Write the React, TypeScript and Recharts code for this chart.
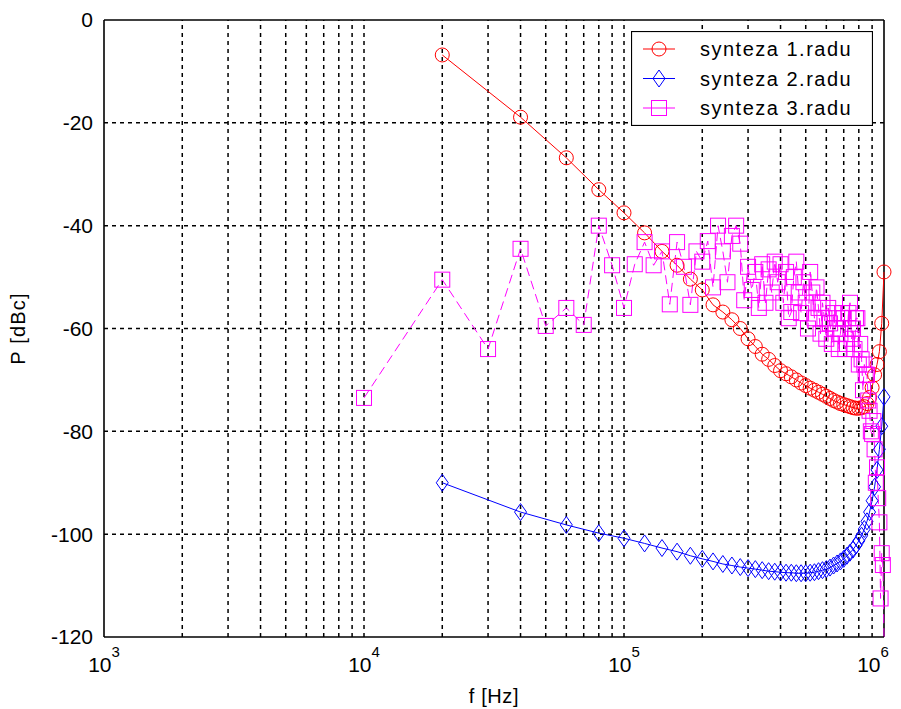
import React from "react"
import {
  LineChart,
  Line,
  XAxis,
  YAxis,
  ReferenceLine,
  Legend,
} from "recharts"

// frequencies in kHz
const harmonicsKHz = [
  20, 40, 60, 80, 100, 120, 140, 160, 180, 200,
  220, 240, 260, 280, 300, 320, 340, 360, 380, 400,
  420, 440, 460, 480, 500, 520, 540, 560, 580, 600,
  620, 640, 660, 680, 700, 720, 740, 760, 780, 800,
  820, 840, 860, 880, 900, 920, 940, 960, 980, 1000,
]

const thirdOrderKHz = [
  10, 20, 30, 40, 50, 60, 70, 80, 90, 100,
  110, 120, 130, 140, 150, 160, 170, 180, 190, 200,
  210, 220, 230, 240, 250, 260, 270, 280, 290, 300,
  310, 320, 330, 340, 350, 360, 370, 380, 390, 400,
  410, 420, 430, 440, 450, 460, 470, 480, 490, 500,
  510, 520, 530, 540, 550, 560, 570, 580, 590, 600,
  610, 620, 630, 640, 650, 660, 670, 680, 690, 700,
  710, 720, 730, 740, 750, 760, 770, 780, 790, 800,
  810, 820, 830, 840, 850, 860, 870, 880, 890, 900,
  910, 920, 930, 940, 950, 960, 970, 980, 990, 1000,
]

// P [dBc]
const synteza1 = [
  -6.8, -18.9, -26.8, -33, -37.5, -41.4, -45, -47.7, -50.4, -52.5,
  -55.4, -56.8, -58.3, -60, -62, -63.5, -65, -66, -67.2, -68.2,
  -68.8, -69.4, -70, -70.6, -71.1, -71.6, -72, -72.4, -72.8, -73.2,
  -73.6, -74, -74.3, -74.6, -74.8, -75, -75.2, -75.4, -75.5, -75.5,
  -75.4, -75.2, -74.6, -73.4, -71.5, -69, -67, -64.5, -59, -49,
]

const synteza2 = [
  -90, -95.7, -98.2, -99.8, -100.8, -101.8, -102.7, -103.4, -104.2, -104.8,
  -105.3, -105.8, -106.1, -106.4, -106.6, -106.8, -107, -107.2, -107.3, -107.4,
  -107.5, -107.5, -107.6, -107.6, -107.6, -107.5, -107.4, -107.2, -107, -106.8,
  -106.5, -106.1, -105.7, -105.3, -104.8, -104.2, -103.6, -103, -102.2, -101.3,
  -100.3, -99, -97.5, -95.7, -93.5, -90.8, -87.5, -83.5, -79, -73.3,
]

// last point sits at the bottom of the axes (off scale)
const synteza3 = [
  -73.5, -50.5, -64, -44.5, -59.5, -56, -59.3, -40, -47.7, -56,
  -47.5, -43.2, -47.7, -45, -55.3, -43.2, -48, -55.4, -45, -47,
  -43, -52, -40, -45, -51, -42, -40, -43.5, -54.5, -48,
  -52.5, -49, -56, -47.5, -55, -48.5, -53, -47, -51, -47.5,
  -55, -49, -58, -56.8, -50, -47, -53, -57, -51, -55,
  -60, -49, -53, -58, -52, -56, -61, -55, -58, -62,
  -56, -59, -63, -57, -60, -58, -64, -61, -57, -58,
  -64, -63, -57, -55, -62, -60, -64, -58, -58, -67,
  -63, -66, -72, -67, -69, -69, -74, -76, -80, -80.5,
  -78, -83.5, -90, -87, -93, -97.7, -112.5, -103.7, -106, -120,
]

const seriesNames = ["synteza 1.radu", "synteza 2.radu", "synteza 3.radu"]
const xTicks = [1e3, 1e4, 1e5, 1e6]
const xExponents = ["3", "4", "5", "6"]
const yTicks = [-120, -100, -80, -60, -40, -20, 0]
const xGrid = [
  2e3, 3e3, 4e3, 5e3, 6e3, 7e3, 8e3, 9e3, 1e4,
  2e4, 3e4, 4e4, 5e4, 6e4, 7e4, 8e4, 9e4, 1e5,
  2e5, 3e5, 4e5, 5e5, 6e5, 7e5, 8e5, 9e5,
]
const yGrid = [-100, -80, -60, -40, -20]

const RED = "#ff0000"
const BLUE = "#0000ff"
const MAGENTA = "#ff00ff"
const FONT = '"Liberation Sans", Arial, sans-serif'

const toRows = (khz: number[], p: number[]) =>
  khz.map((k, i) => ({ f: k * 1000, p: p[i] }))

const data1 = toRows(harmonicsKHz, synteza1)
const data2 = toRows(harmonicsKHz, synteza2)
const data3 = toRows(thirdOrderKHz, synteza3)

function Marker({ kind, cx, cy, color }: { kind: string; cx: number; cy: number; color: string }) {
  if (kind === "circle") {
    return <circle cx={cx} cy={cy} r={7} fill="none" stroke={color} strokeWidth={1} />
  }
  if (kind === "diamond") {
    const pts = `${cx},${cy - 8.5} ${cx + 6},${cy} ${cx},${cy + 8.5} ${cx - 6},${cy}`
    return <polygon points={pts} fill="none" stroke={color} strokeWidth={1} />
  }
  return (
    <rect x={cx - 7.5} y={cy - 7.5} width={15} height={15} fill="none" stroke={color} strokeWidth={1} />
  )
}

const makeDot = (kind: string, color: string) => (props: any) => {
  const { cx, cy, index, payload } = props
  // no marker for the off-scale point
  if (cx == null || cy == null || (payload && payload.p <= -120)) {
    return <g key={`d-${kind}-${index}`} />
  }
  return (
    <g key={`d-${kind}-${index}`}>
      <Marker kind={kind} cx={cx} cy={cy} color={color} />
    </g>
  )
}

const legendItems = [
  { name: seriesNames[0], color: RED, kind: "circle" },
  { name: seriesNames[1], color: BLUE, kind: "diamond" },
  { name: seriesNames[2], color: MAGENTA, kind: "square" },
]

function LegendBox() {
  return (
    <svg width={242} height={95} style={{ display: "block" }}>
      <rect x={0.5} y={0.5} width={241} height={94} fill="#fff" stroke="#000" strokeWidth={1.2} />
      {legendItems.map((it, i) => {
        const y = 18 + i * 29.5
        return (
          <g key={it.name}>
            <line x1={12} x2={44} y1={y} y2={y} stroke={it.color} strokeWidth={1} />
            <Marker kind={it.kind} cx={28} cy={y} color={it.color} />
            <text
              x={69}
              y={y + 7}
              fontSize={20}
              fontFamily={FONT}
              letterSpacing={1.5}
              fill="#000"
            >
              {it.name}
            </text>
          </g>
        )
      })}
    </svg>
  )
}

function XTick(props: any) {
  const { x, y, payload } = props
  const i = xTicks.indexOf(payload.value)
  return (
    <text x={x} y={y + 27} textAnchor="middle" fontFamily={FONT} fill="#000">
      <tspan fontSize={21}>10</tspan>
      <tspan fontSize={15} dy={-15}>{xExponents[i]}</tspan>
    </text>
  )
}

export default function App() {
  return (
    <div style={{ position: "absolute", left: 0, top: 0, background: "#fff" }}>
      <LineChart
        width={901}
        height={709}
        margin={{ top: 20, right: 17, bottom: 22, left: 44 }}
      >
        <XAxis
          dataKey="f"
          type="number"
          scale="log"
          domain={[1000, 1000000]}
          ticks={xTicks}
          axisLine={{ stroke: "#000", strokeWidth: 1.6 }}
          tickLine={false}
          tick={<XTick />}
          height={50}
          label={{
            content: (p: any) => {
              const vb = p.viewBox
              return (
                <text
                  x={vb.x + vb.width / 2}
                  y={vb.y + 66}
                  textAnchor="middle"
                  fontSize={20}
                  fontFamily={FONT}
                  letterSpacing={0.6}
                  fill="#000"
                >
                  f [Hz]
                </text>
              )
            },
          }}
        />
        <YAxis
          type="number"
          domain={[-120, 0]}
          ticks={yTicks}
          width={60}
          axisLine={{ stroke: "#000", strokeWidth: 1.6 }}
          tickLine={false}
          tickMargin={5}
          tick={{ fill: "#000", fontSize: 21, fontFamily: FONT }}
          label={{
            content: (p: any) => {
              const vb = p.viewBox
              const cx = vb.x - 26
              const cy = vb.y + vb.height / 2
              return (
                <text
                  x={cx}
                  y={cy}
                  transform={`rotate(-90 ${cx} ${cy})`}
                  textAnchor="middle"
                  dominantBaseline="central"
                  fontSize={20}
                  fontFamily={FONT}
                  letterSpacing={1.2}
                  fill="#000"
                >
                  P [dBc]
                </text>
              )
            },
          }}
        />
        {xGrid.map((v) => (
          <ReferenceLine key={`gx${v}`} x={v} stroke="#000" strokeDasharray="4 4" strokeWidth={1.5} />
        ))}
        {yGrid.map((v) => (
          <ReferenceLine key={`gy${v}`} y={v} stroke="#000" strokeDasharray="4 4" strokeWidth={1.5} />
        ))}
        <ReferenceLine y={0} stroke="#000" strokeWidth={1.6} />
        <ReferenceLine x={1000000} stroke="#000" strokeWidth={1.6} />
        <Line
          data={data1}
          dataKey="p"
          name={seriesNames[0]}
          stroke={RED}
          strokeWidth={1}
          dot={makeDot("circle", RED)}
          activeDot={false}
          isAnimationActive={false}
        />
        <Line
          data={data2}
          dataKey="p"
          name={seriesNames[1]}
          stroke={BLUE}
          strokeWidth={1}
          dot={makeDot("diamond", BLUE)}
          activeDot={false}
          isAnimationActive={false}
        />
        <Line
          data={data3}
          dataKey="p"
          name={seriesNames[2]}
          stroke={MAGENTA}
          strokeWidth={1}
          strokeDasharray="9 5"
          dot={makeDot("square", MAGENTA)}
          activeDot={false}
          isAnimationActive={false}
        />
        <Legend
          layout="vertical"
          align="center"
          verticalAlign="middle"
          content={() => <LegendBox />}
          wrapperStyle={{ position: "absolute", left: 631, top: 31, width: 242, height: 95 }}
        />
      </LineChart>
    </div>
  )
}
